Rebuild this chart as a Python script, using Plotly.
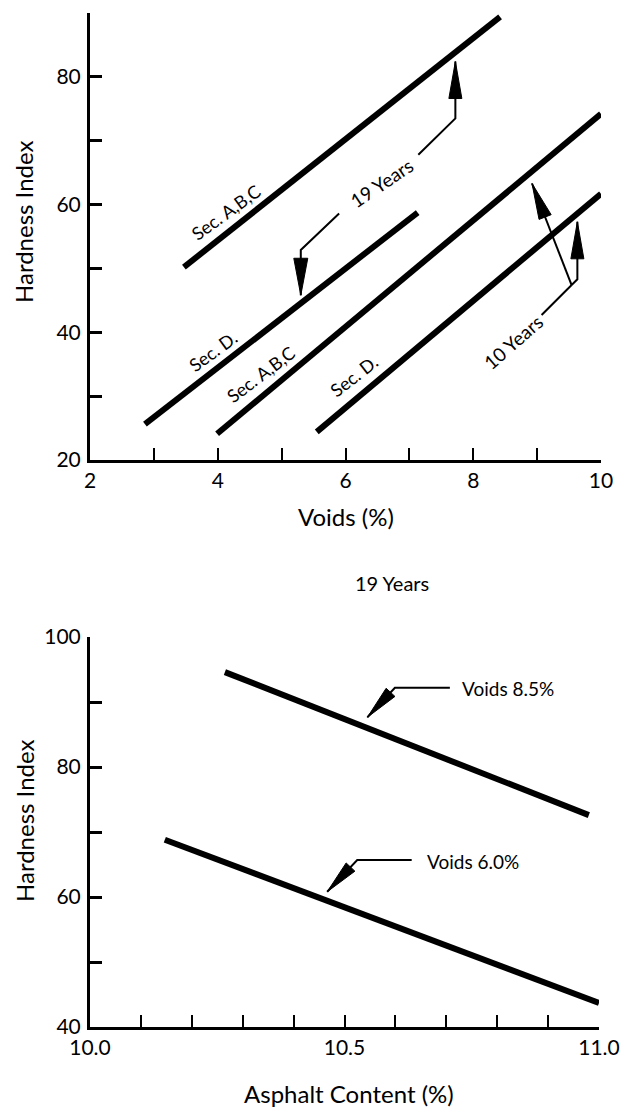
import math
import plotly.graph_objects as go

W, H = 627, 1108

# ---- Upper panel: hardness index vs. voids ----
abc19_x = [3.47, 8.42]
abc19_y = [50.2, 89.4]
d19_x = [2.86, 7.13]
d19_y = [25.6, 58.75]
abc10_x = [3.99, 10.0]
abc10_y = [24.1, 74.2]
d10_x = [5.55, 10.0]
d10_y = [24.4, 61.7]

voids_ticks = [2, 3, 4, 5, 6, 7, 8, 9, 10]
voids_ticktext = ["2", "", "4", "", "6", "", "8", "", "10"]
hi_top_ticks = [20, 30, 40, 50, 60, 70, 80, 90]
hi_top_ticktext = ["20", "", "40", "", "60", "", "80", ""]

# ---- Lower panel: hardness index vs. asphalt content (19 years) ----
v85_x = [10.265, 10.98]
v85_y = [94.6, 72.6]
v60_x = [10.147, 11.0]
v60_y = [68.8, 43.7]

ac_ticks = [10.0, 10.1, 10.2, 10.3, 10.4, 10.5, 10.6, 10.7, 10.8, 10.9, 11.0]
ac_ticktext = ["10.0", "", "", "", "", "10.5", "", "", "", "", "11.0"]
hi_bot_ticks = [40, 50, 60, 70, 80, 90, 100]
hi_bot_ticktext = ["40", "", "60", "", "80", "", "100"]

FONT = "Lato"
BLACK = "#000000"

# panel geometry in page pixels
PANELS = {
    "top": dict(xr=(2, 10), yr=(20, 90), xpx=(90, 601), ypx=(460, 13), xref="x", yref="y"),
    "bot": dict(xr=(10, 11), yr=(40, 100), xpx=(90, 599), ypx=(1027, 637), xref="x2", yref="y2"),
}


def to_px(panel, x, y):
    g = PANELS[panel]
    px = g["xpx"][0] + (x - g["xr"][0]) / (g["xr"][1] - g["xr"][0]) * (g["xpx"][1] - g["xpx"][0])
    py = g["ypx"][0] + (y - g["yr"][0]) / (g["yr"][1] - g["yr"][0]) * (g["ypx"][1] - g["ypx"][0])
    return px, py


def leader(panel, pts, width=2):
    g = PANELS[panel]
    path = "M " + " L ".join(f"{x},{y}" for x, y in pts)
    return dict(type="path", xref=g["xref"], yref=g["yref"], path=path,
                line=dict(color=BLACK, width=width), layer="above")


def arrowhead(panel, frm, tip, length=37, half=6.5):
    g = PANELS[panel]
    fx, fy = to_px(panel, *frm)
    tx, ty = to_px(panel, *tip)
    a = math.atan2(-(ty - fy), tx - fx)
    bx, by = -length * math.cos(a), -length * math.sin(a)
    nx, ny = -math.sin(a), math.cos(a)
    c1 = (bx + half * nx, by + half * ny)
    c2 = (bx - half * nx, by - half * ny)
    path = f"M 0,0 L {c1[0]:.2f},{c1[1]:.2f} L {c2[0]:.2f},{c2[1]:.2f} Z"
    return dict(type="path", xref=g["xref"], yref=g["yref"],
                xsizemode="pixel", ysizemode="pixel",
                xanchor=tip[0], yanchor=tip[1], path=path,
                fillcolor=BLACK, line=dict(color=BLACK, width=1), layer="above")


fig = go.Figure()

line_style = dict(color=BLACK, width=6)
for xs, ys in [(abc19_x, abc19_y), (d19_x, d19_y), (abc10_x, abc10_y), (d10_x, d10_y)]:
    fig.add_trace(go.Scatter(x=xs, y=ys, mode="lines", line=line_style,
                             xaxis="x", yaxis="y", showlegend=False, hoverinfo="skip"))
for xs, ys in [(v85_x, v85_y), (v60_x, v60_y)]:
    fig.add_trace(go.Scatter(x=xs, y=ys, mode="lines", line=line_style,
                             xaxis="x2", yaxis="y2", showlegend=False, hoverinfo="skip"))

shapes = []
# "19 Years" bracket
r19 = [(7.14, 67.8), (7.72, 73.5), (7.72, 82.4)]
l19 = [(5.90, 58.6), (5.30, 52.9), (5.30, 45.8)]
shapes += [leader("top", r19), arrowhead("top", r19[-2], r19[-1])]
shapes += [leader("top", l19), arrowhead("top", l19[-2], l19[-1], half=7)]
# "10 Years" fork
stem10 = [(9.07, 42.7), (9.54, 47.4)]
up10 = [(9.54, 47.4), (9.63, 48.3), (9.63, 57.3)]
slant10 = [(9.54, 47.4), (8.92, 63.3)]
shapes += [leader("top", stem10), leader("top", up10), leader("top", slant10)]
shapes += [arrowhead("top", up10[-2], up10[-1]), arrowhead("top", slant10[-2], slant10[-1], length=36)]
# lower panel callouts
c85 = [(10.707, 92.2), (10.599, 92.2), (10.545, 87.65)]
c60 = [(10.632, 65.7), (10.525, 65.7), (10.466, 60.8)]
shapes += [leader("bot", c85), arrowhead("bot", c85[-2], c85[-1], length=34, half=6)]
shapes += [leader("bot", c60), arrowhead("bot", c60[-2], c60[-1], length=34, half=6)]

annotations = []


def label(panel, x, y, text, angle=0, xanchor="center", dx=0, dy=0, size=19):
    g = PANELS[panel]
    annotations.append(dict(x=x, y=y, xref=g["xref"], yref=g["yref"], text=text,
                            showarrow=False, textangle=angle,
                            font=dict(family=FONT, size=size, color=BLACK),
                            xanchor=xanchor, yanchor="middle", xshift=dx, yshift=dy))


label("top", 4.16, 58.2, "Sec. A,B,C", -36, dx=-2, dy=4, size=18)
label("top", 3.96, 36.4, "Sec. D.", -36, dx=-2, dy=4, size=18)
label("top", 4.71, 32.8, "Sec. A,B,C", -37, dx=-2, dy=4, size=18)
label("top", 6.16, 32.5, "Sec. D.", -38, dx=-2, dy=4, size=18)
label("top", 6.54, 62.9, "19 Years", -34, dx=2, dy=4)
label("top", 8.54, 37.7, "10 Years", -41, dx=6, dy=5)
label("bot", 10.727, 92.15, "Voids 8.5%", 0, "left")
label("bot", 10.658, 65.4, "Voids 6.0%", 0, "left")

title_font = dict(family=FONT, size=24, color=BLACK)


def paper_text(px, py, text, font, angle=0):
    annotations.append(dict(x=px / W, y=1 - py / H, xref="paper", yref="paper", text=text,
                            showarrow=False, textangle=angle, font=font,
                            xanchor="center", yanchor="middle"))


paper_text(346, 516, "Voids (%)", title_font)
paper_text(24, 222, "Hardness Index", title_font, -90)
paper_text(349, 1093, "Asphalt Content (%)", title_font)
paper_text(24, 821, "Hardness Index", title_font, -90)
paper_text(392, 583, "19 Years", dict(family=FONT, size=20, color=BLACK))


def axis_common(**kw):
    base = dict(showgrid=False, zeroline=False, showline=True, linecolor=BLACK, linewidth=3,
                ticks="inside", ticklen=12, tickcolor=BLACK, mirror=False,
                tickfont=dict(family=FONT, size=21, color=BLACK), tickmode="array",
                fixedrange=True, automargin=False)
    base.update(kw)
    return base


def dom_x(p):
    return [p["xpx"][0] / W, p["xpx"][1] / W]


def dom_y(p):
    return [1 - p["ypx"][0] / H, 1 - p["ypx"][1] / H]


T, B = PANELS["top"], PANELS["bot"]
fig.update_layout(
    width=W, height=H,
    margin=dict(l=0, r=0, t=0, b=0, autoexpand=False),
    paper_bgcolor="white", plot_bgcolor="white",
    showlegend=False,
    xaxis=axis_common(domain=dom_x(T), range=list(T["xr"]), anchor="y",
                      tickvals=voids_ticks, ticktext=voids_ticktext, tickwidth=2,
                      ticklabelstandoff=0),
    yaxis=axis_common(domain=dom_y(T), range=list(T["yr"]), anchor="x",
                      tickvals=hi_top_ticks, ticktext=hi_top_ticktext, tickwidth=3,
                      ticklabelstandoff=2),
    xaxis2=axis_common(domain=dom_x(B), range=list(B["xr"]), anchor="y2",
                       tickvals=ac_ticks, ticktext=ac_ticktext, tickwidth=2,
                       ticklabelstandoff=0),
    yaxis2=axis_common(domain=dom_y(B), range=list(B["yr"]), anchor="x2",
                       tickvals=hi_bot_ticks, ticktext=hi_bot_ticktext, tickwidth=3,
                       ticklabelstandoff=2),
    shapes=shapes,
    annotations=annotations,
)

fig.write_html("out.html")
